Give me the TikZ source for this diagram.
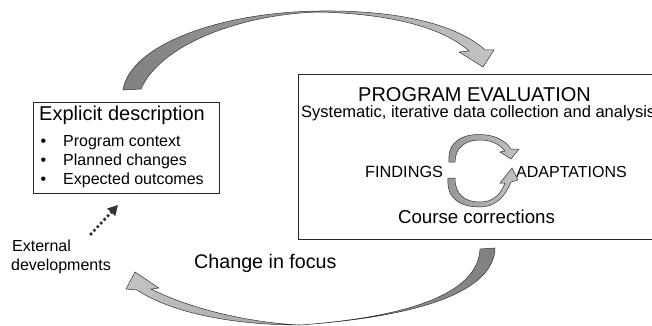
\documentclass[tikz,border=0pt]{standalone}
\usepackage{fontspec}
\setmainfont{Liberation Sans}
\usetikzlibrary{arrows.meta}
\definecolor{banddark}{RGB}{128,128,128}
\definecolor{bandmid}{RGB}{150,150,150}
\definecolor{bandlight}{RGB}{195,195,195}
\newcommand{\fs}[1]{\fontsize{#1}{#1}\selectfont}
\tikzset{
    box/.style={draw=black!85, line width=0.9pt, anchor=north west, inner sep=0pt},
    txt/.style={inner sep=0pt, anchor=base west},
    ctxt/.style={inner sep=0pt, anchor=base},
    band/.style={draw=black!80, line width=0.5pt},
    dotline/.style={draw=black!80, line width=3.6pt, line cap=round, dash pattern=on 0pt off 5pt, -{Triangle[length=10pt, width=10.5pt]}}
}
\begin{document}
\begin{tikzpicture}[x=1pt, y=-1pt]
    \clip (0,0) rectangle (652,326);
    \node[box, minimum width=186pt, minimum height=91pt] (expl) at (33,102) {};
    \node[box, minimum width=380pt, minimum height=165pt] (eval) at (298,74) {};

    \node[txt, font=\fs{20}] (expltitle) at (39,121) {Explicit description};
    \foreach \y/\t [count=\i] in {146/Program context, 165/Planned changes, 184/Expected outcomes}
    {
        \node[txt, font=\fs{16}] (bul\i) at (40.5,\y) {\textbullet};
        \node[txt, font=\fs{16}] (item\i) at (63,\y) {\t};
    }

    \node[ctxt, font=\fs{20}] (evaltitle) at (474.5,102) {PROGRAM EVALUATION};
    \node[txt, font=\fs{16.5}] (evalsub) at (301,117.5) {Systematic, iterative data collection and analysis};
    \node[txt, font=\fs{16.3}] (findings) at (365,177) {FINDINGS};
    \node[txt, font=\fs{16}] (adapt) at (516,177) {ADAPTATIONS};
    \node[ctxt, font=\fs{18.7}] (course) at (476.5,223.4) {Course corrections};

    \node[txt, font=\fs{19.7}] (focus) at (194,268) {Change in focus};
    \node[txt, font=\fs{16}] (ext1) at (12,251) {External};
    \node[txt, font=\fs{16}] (ext2) at (11,270) {developments};

    % big arrows
    \shadedraw[band, left color=banddark, right color=bandlight]
        (123,90) .. controls (130,45) and (220,12) .. (320,11)
        .. controls (400,10) and (458,25) .. (485,50)
        -- (494,50) -- (483,67) -- (459,52) -- (469,51)
        .. controls (442,27) and (390,14) .. (320,12)
        .. controls (240,14) and (160,45) .. (141,89) -- cycle;
    \shadedraw[band, left color=bandlight, right color=banddark]
        (495,248) .. controls (494,285) and (440,315) .. (300,325)
        .. controls (230,325) and (170,312) .. (137,290)
        -- (126,289) -- (135,272) -- (159,288) -- (151,289)
        .. controls (185,306) and (240,322) .. (300,325)
        .. controls (420,316) and (478,290) .. (480,249) -- cycle;

    % small cycle
    \shadedraw[band, left color=bandmid, right color=bandlight]
        (449,162) .. controls (447,140) and (465,134) .. (480,134.5)
        .. controls (495,135) and (505,140) .. (511,149)
        -- (519,149) -- (511,159) -- (500,152) -- (505,151)
        .. controls (498,143) and (490,140) .. (480,140)
        .. controls (465,140) and (455,148) .. (455,162) -- cycle;
    \shadedraw[band, left color=bandmid, right color=bandlight]
        (448,178) .. controls (446,200) and (462,207) .. (480,207)
        .. controls (495,207) and (505,197) .. (511,182)
        -- (518,180) -- (512,168) -- (500,183) -- (505,183)
        .. controls (500,196) and (492,202) .. (480,202)
        .. controls (465,202) and (455,195) .. (455,178) -- cycle;

    \coordinate (extsrc) at (91,234);
    \coordinate (exttip) at (118,205);
    \draw[dotline] (extsrc) -- (exttip);
\end{tikzpicture}
\end{document}
